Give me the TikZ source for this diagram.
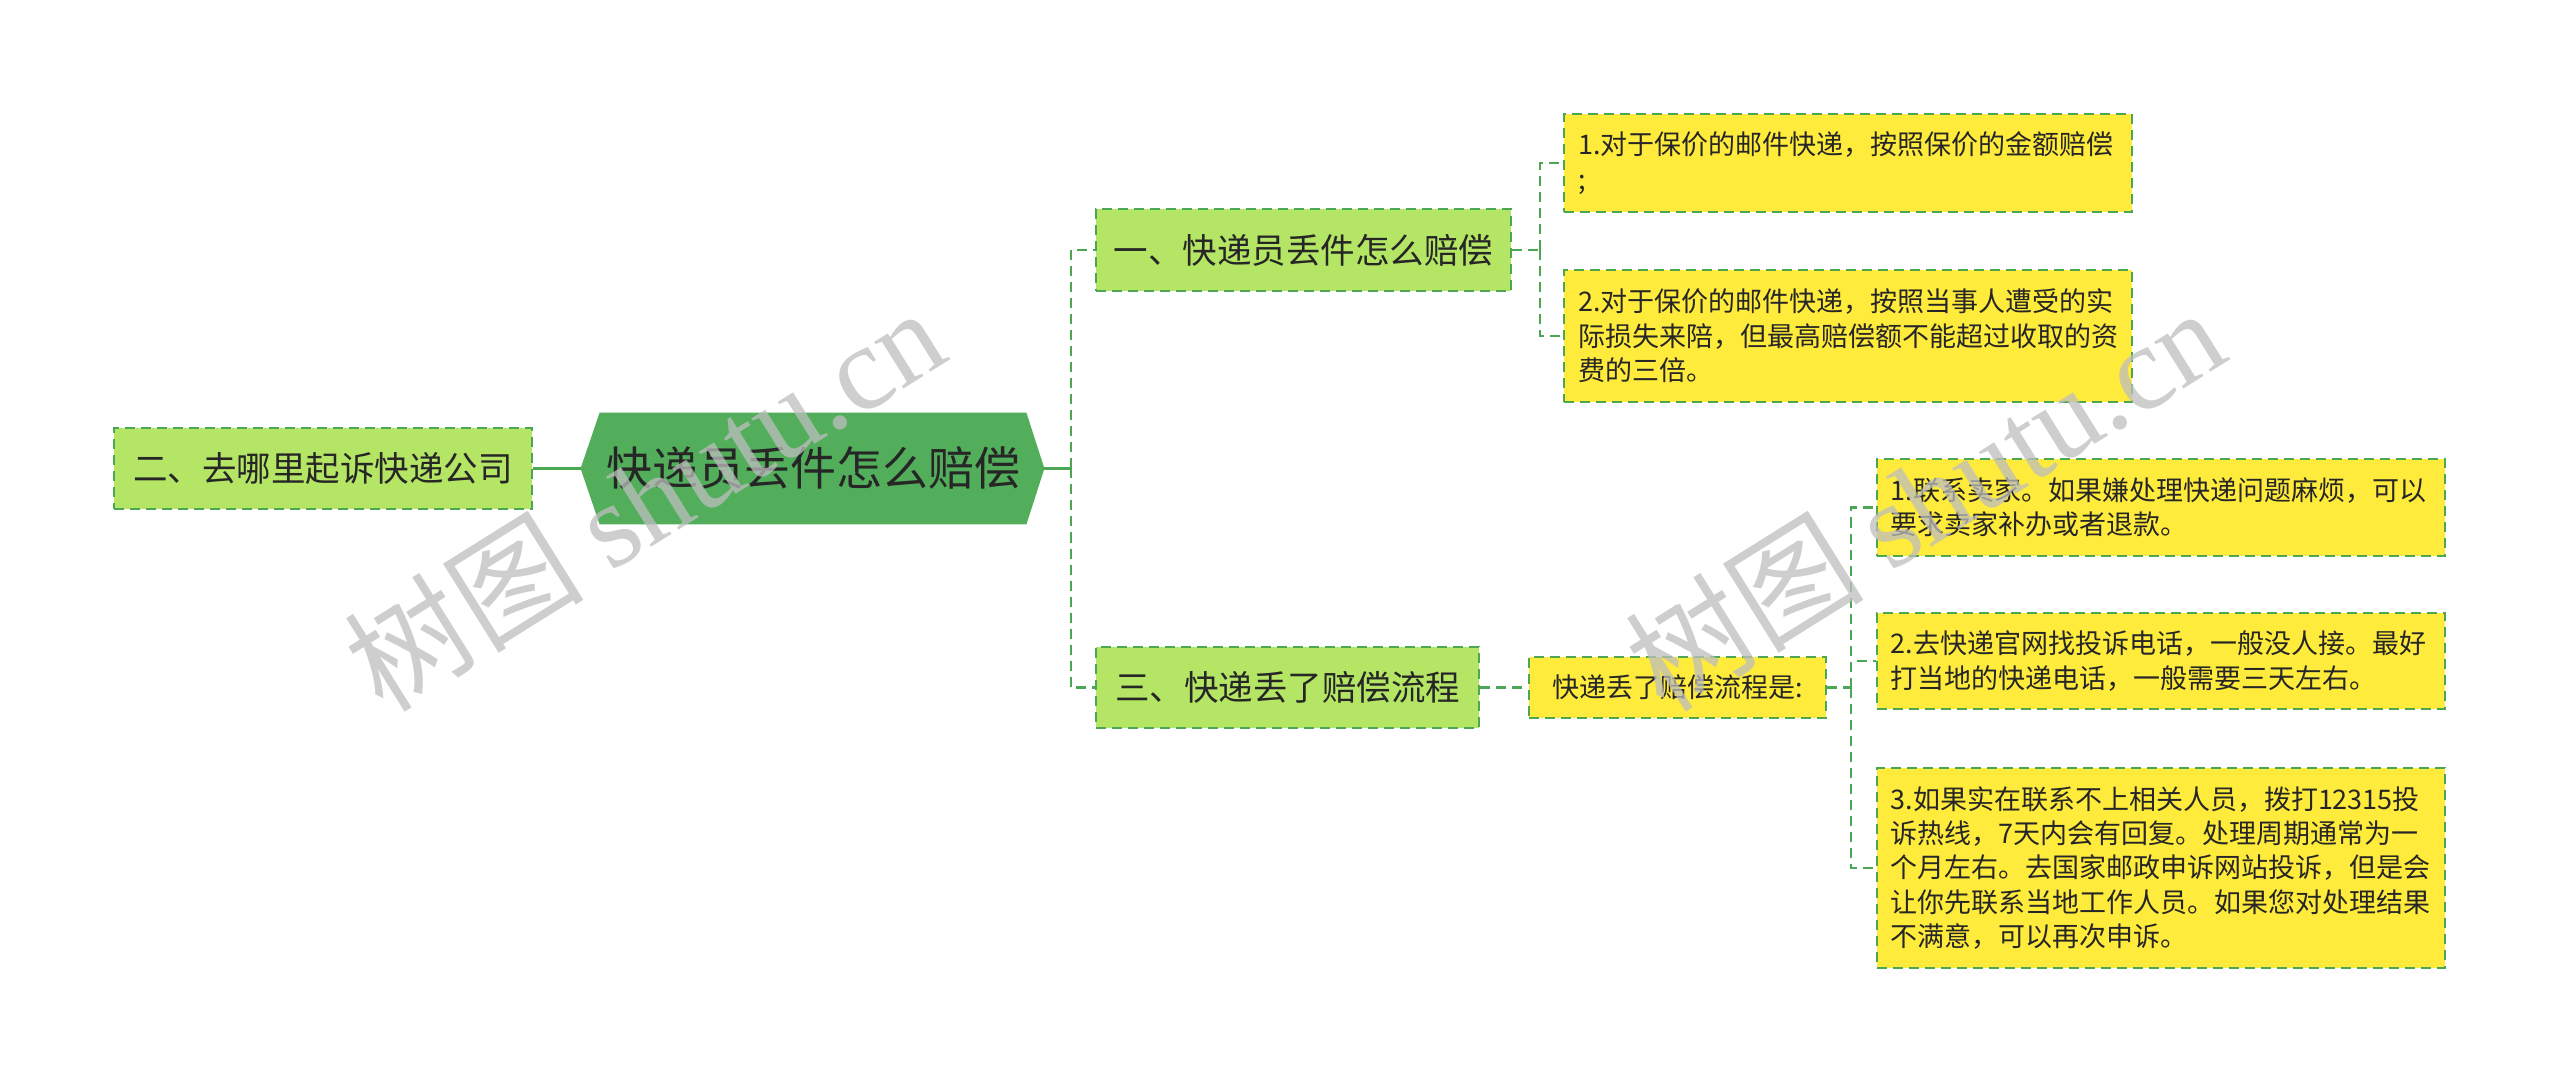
\documentclass[tikz,border=0pt]{standalone}
\usepackage{fontspec}
\setmainfont{Noto Sans CJK SC}
\newfontfamily\wmserif{Liberation Serif}
\usetikzlibrary{backgrounds}
\definecolor{rootg}{HTML}{52AE5B}
\definecolor{lightg}{HTML}{B4E565}
\definecolor{yel}{HTML}{FFEB3B}
\definecolor{lineg}{HTML}{4CA754}
\definecolor{txt}{HTML}{262626}
\definecolor{wm}{HTML}{BEBEBE}
\begin{document}
\begin{tikzpicture}[x=0.5pt,y=-0.5pt,
  box/.style={draw=lineg, line width=1pt, dash pattern=on 5pt off 3pt, inner sep=0pt, text=txt, anchor=center},
  lvl1/.style={box, fill=lightg, minimum height=40.5pt, font=\fontsize{17.25pt}{20pt}\selectfont},
  leaf/.style={box, fill=yel, font=\fontsize{13.5pt}{17.2pt}\selectfont, align=left, text width=270pt, inner xsep=7pt},
  midbox/.style={box, fill=yel, font=\fontsize{13.5pt}{17pt}\selectfont},
  conn/.style={draw=lineg, line width=1.2pt, dash pattern=on 5pt off 3pt},
  solidconn/.style={draw=lineg, line width=1.6pt},
  wmark/.style={rotate=32, text=wm, opacity=0.75, inner sep=0pt, font=\fontsize{60pt}{64pt}\selectfont}
]
\useasboundingbox (0,0) rectangle (2560,1085);

% nodes
\node[lvl1, minimum width=209pt] (left) at (323,468.5) {二、去哪里起诉快递公司};
\node[inner sep=0pt, minimum width=213pt, minimum height=55.5pt, text=txt,
      font=\fontsize{23pt}{26pt}\selectfont] (root) at (813,468.5) {快递员丢件怎么赔偿};
\coordinate (rootL) at ([xshift=-9.5pt]root.west);
\coordinate (rootR) at ([xshift=9pt]root.east);

\node[lvl1, minimum width=207.5pt, minimum height=41pt] (b1) at (1303.5,250) {一、快递员丢件怎么赔偿};
\node[lvl1, minimum width=191.5pt] (b3) at (1287.5,687.5) {三、快递丢了赔偿流程};

\node[leaf, minimum height=49pt] (a1) at (1848,163) {1.对于保价的邮件快递，按照保价的金额赔偿\\;};
\node[leaf, minimum height=66pt] (a2) at (1848,336) {2.对于保价的邮件快递，按照当事人遭受的实\\际损失来陪，但最高赔偿额不能超过收取的资\\费的三倍。};

\node[midbox, minimum width=148.5pt, minimum height=30.5pt] (mid) at (1677.5,687.5) {快递丢了赔偿流程是:};

\node[leaf, minimum height=48.5pt] (c1) at (2160.5,507.5) {1.联系卖家。如果嫌处理快递问题麻烦，可以\\要求卖家补办或者退款。};
\node[leaf, minimum height=48pt] (c2) at (2160.5,661) {2.去快递官网找投诉电话，一般没人接。最好\\打当地的快递电话，一般需要三天左右。};
\node[leaf, minimum height=100pt] (c3) at (2160.5,868) {3.如果实在联系不上相关人员，拨打12315投\\诉热线，7天内会有回复。处理周期通常为一\\个月左右。去国家邮政申诉网站投诉，但是会\\让你先联系当地工作人员。如果您对处理结果\\不满意，可以再次申诉。};

% background: white page and root hexagon
\begin{scope}[on background layer]
  \fill[white] (0,0) rectangle (2560,1085);
  \fill[rootg] (rootL) -- (root.north west) -- (root.north east) -- (rootR)
     -- (root.south east) -- (root.south west) -- cycle;
\end{scope}

% connectors
\coordinate (j0) at (1071,468.5);
\coordinate (j1) at (1540,250);
\coordinate (j2) at (1851,687.5);
\draw[solidconn] (left.east) -- (rootL);
\draw[solidconn] (rootR) -- (j0);
\draw[conn] (j0) |- (b1.west);
\draw[conn] (j0) |- (b3.west);
\draw[conn] (b1.east) -- (j1);
\draw[conn] (j1) |- (a1.west);
\draw[conn] (j1) |- (a2.west);
\draw[conn] (b3.east) -- (mid.west);
\draw[conn] (mid.east) -- (j2);
\draw[conn] (j2) |- (c1.west);
\draw[conn] (j2) |- (c2.west);
\draw[conn] (j2) |- (c3.west);

% watermarks
\node[wmark] (wm1) at (644,498) {树图 {\wmserif shutu.cn}};
\node[wmark] (wm2) at (1924,498) {树图 {\wmserif shutu.cn}};
\end{tikzpicture}
\end{document}
